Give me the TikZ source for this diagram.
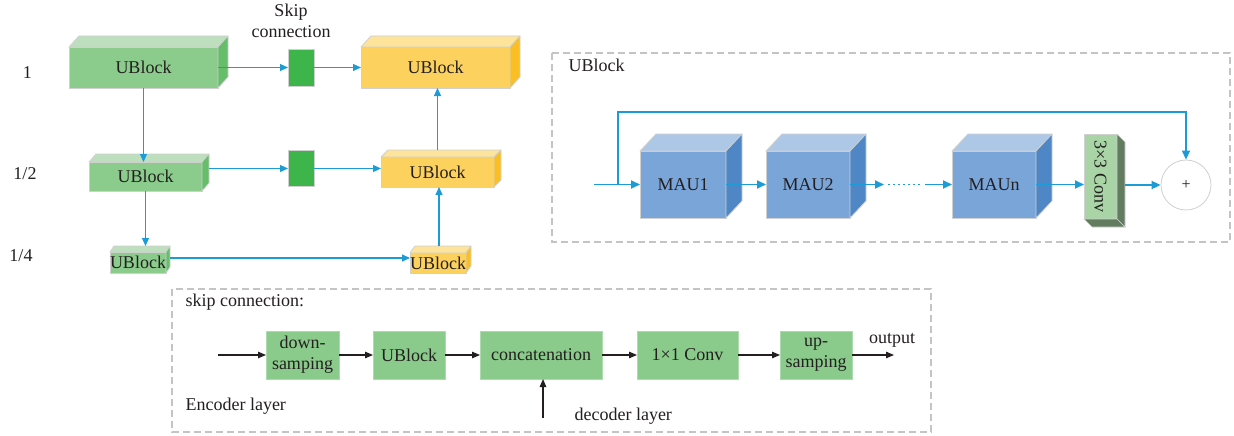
\documentclass[tikz,border=0pt]{standalone}
\usepackage{fontspec}
\setmainfont{Liberation Serif}
\usetikzlibrary{arrows.meta,calc}
\definecolor{txt}{HTML}{231F20}
\definecolor{gfront}{HTML}{8BCB8C}
\definecolor{gtop}{HTML}{BEDFBE}
\definecolor{gside}{HTML}{66BD6A}
\definecolor{yfront}{HTML}{FDD15E}
\definecolor{ytop}{HTML}{FEE39A}
\definecolor{yside}{HTML}{FBBF24}
\definecolor{mfront}{HTML}{7AA5D8}
\definecolor{mtop}{HTML}{ADC8E7}
\definecolor{mside}{HTML}{4F86C5}
\definecolor{skipg}{HTML}{3DB54A}
\definecolor{convf}{HTML}{A9D4A6}
\definecolor{convs}{HTML}{627C60}
\definecolor{boxg}{HTML}{8ACB8B}
\definecolor{abl}{HTML}{1D9BD7}
\definecolor{edgegray}{HTML}{D0D0D0}
\definecolor{dashgray}{HTML}{C4C4C4}
\tikzset{
  every node/.style={font=\fontsize{18pt}{21pt}\selectfont, text=txt},
  cubeface/.style={draw=edgegray, line width=0.8pt, inner sep=0pt, outer sep=0pt},
  cubeedge/.style={draw=edgegray, line width=0.8pt, line join=round},
  barrow/.style={draw=abl, line width=1.2pt, -{Triangle[length=8pt,width=7pt]}},
  barrowthick/.style={draw=abl, line width=1.7pt, -{Triangle[length=9pt,width=8pt]}},
  karrow/.style={draw=txt, line width=1.2pt, -{Triangle[length=8pt,width=6.5pt]}},
  sbox/.style={fill=boxg, draw=boxg!70!white, line width=0.8pt, inner sep=0pt, outer sep=0pt, minimum height=48pt, align=center},
  dashbox/.style={draw=dashgray, line width=1.2pt, dash pattern=on 7pt off 4pt},
}
\newcommand\cubo[9]{%
  \node[cubeface, fill=#8front, minimum width=#4pt, minimum height=#5pt] (#1) at (#2,#3) {#9};
  \filldraw[cubeedge, fill=#8top] (#1.north west) -- ++(#6,-#7) -- ++(#4,0) -- (#1.north east) -- cycle;
  \filldraw[cubeedge, fill=#8side] (#1.north east) -- ++(#6,-#7) -- ++(0,#5) -- (#1.south east) -- cycle;
}
\begin{document}
\begin{tikzpicture}[x=1pt,y=-1pt]
\useasboundingbox[fill=white] (0,0) rectangle (1234,436);

% ---------- left: U-structure ----------
\node[anchor=base] (l1) at (27.5,78) {1};
\node[anchor=base] (l2) at (25,179) {1/2};
\node[anchor=base] (l4) at (21,261) {1/4};
\node[anchor=base] (skiptxt1) at (291,17) {Skip};
\node[anchor=base] (skiptxt2) at (291,38) {connection};

\cubo{g1}{143.5}{67.5}{149}{41}{10}{11}{g}{UBlock}
\cubo{y1}{435.5}{67.5}{149}{41}{10}{11}{y}{UBlock}
\cubo{g2}{145.5}{176.5}{113}{29}{7}{8}{g}{UBlock}
\cubo{y2}{437.5}{172}{113}{30}{7}{7}{y}{UBlock}
\cubo{g3}{138}{262.5}{56}{21}{4}{6}{g}{UBlock}
\cubo{y3}{438}{263}{56}{20}{5}{7}{y}{UBlock}

\node[fill=skipg, draw=edgegray, line width=0.6pt, minimum width=26pt, minimum height=37pt, inner sep=0pt, outer sep=0pt] (s1) at (301,67.5) {};
\node[fill=skipg, draw=edgegray, line width=0.6pt, minimum width=26pt, minimum height=36pt, inner sep=0pt, outer sep=0pt] (s2) at (301,168.5) {};

\draw[barrow] (g1.east) -- (s1.west |- g1.east);
\draw[barrow] (s1.east |- g1.east) -- (y1.west);
\draw[barrow] ($(s2.west -| g2.east)+(7,0)$) -- (s2.west);
\draw[barrow] (s2.east) -- (y2.west |- s2.east);
\draw[barrow] ($(g3.east)+(4,-4.5)$) -- ($(y3.west)+(0,-5)$);
\draw[barrow] (g1.south) -- (g1.south |- g2.north);
\draw[barrow] (g2.south) -- ($(g2.south |- g3.north)+(0,-6)$);
\draw[barrow] ($(y3.north)+(1,-7)$) -- ($(y3.north |- y2.south)+(1,0)$);
\draw[barrow] ($(y2.north)+(0,-7)$) -- (y2.north |- y1.south);

% ---------- right: UBlock detail ----------
\draw[dashbox] (552,53) rectangle (1230,242);
\node[anchor=base west] (ubtitle) at (565,72) {UBlock};

\cubo{mau1}{683}{184.5}{86}{67}{16}{17}{m}{MAU1}
\cubo{mau2}{808}{184.5}{84}{67}{16}{17}{m}{MAU2}
\cubo{mau3}{994}{184.5}{84}{67}{16}{17}{m}{MAUn}

\node[fill=convf, draw=edgegray, line width=0.6pt, minimum width=33pt, minimum height=85pt, inner sep=0pt, outer sep=0pt] (conv) at (1100.5,176.5) {};
\filldraw[draw=edgegray, line width=0.6pt, fill=convs] (conv.north east) -- ++(8,8) -- ++(0,85) -- (conv.south east) -- cycle;
\filldraw[draw=edgegray, line width=0.6pt, fill=convs] (conv.south west) -- ++(8,8) -- ++(33,0) -- (conv.south east) -- cycle;
\node[rotate=-90] (convlabel) at (conv.center) {3×3 Conv};

\node[circle, draw=edgegray, fill=white, line width=0.8pt, minimum size=50pt, inner sep=0pt] (plus) at (1186,185) {\fontsize{16pt}{18pt}\selectfont +};

\coordinate (inp) at (594,184.5);
\coordinate (fbs) at (618,184.5);
\coordinate (fbt) at (618,112);
\coordinate (d0) at (884,184.5);
\coordinate (d1) at (888,184.5);
\coordinate (d2) at (921,184.5);
\coordinate (d3) at (925,184.5);

\draw[barrowthick] (inp) -- (mau1.west);
\draw[barrowthick, line width=1.3pt] (fbs) -- (fbt) -| (plus.north);
\draw[barrowthick] (mau1.east) -- (mau2.west);
\draw[barrowthick] (mau2.east) -- (d0);
\draw[draw=abl, line width=1.7pt, dash pattern=on 1.6pt off 3.4pt] (d1) -- (d2);
\draw[barrowthick] (d3) -- (mau3.west);
\draw[barrowthick] (mau3.east) -- (mau3.east -| conv.west);
\draw[barrowthick] ($(conv.east |- plus.west)+(8,0)$) -- (plus.west);

% ---------- bottom: skip connection ----------
\draw[dashbox] (172,289) rectangle (931,432);
\node[anchor=base west] (sctitle) at (182,306) {skip connection:};

\node[sbox, minimum width=73pt] (ds) at (302.5,355) {down-\\samping};
\node[sbox, minimum width=72pt] (ub) at (409,355) {UBlock};
\node[sbox, minimum width=122pt] (cat) at (541,355) {concatenation};
\node[sbox, minimum width=101pt] (c11) at (687.5,355) {1×1 Conv};
\node[sbox, minimum width=72pt] (us) at (816,355) {up-\\samping};

\coordinate (encin) at (218,355);
\coordinate (outend) at (894,355);
\coordinate (decin) at (543,418);

\draw[karrow] (encin) -- (ds.west);
\draw[karrow] (ds.east) -- (ub.west);
\draw[karrow] (ub.east) -- (cat.west);
\draw[karrow] (cat.east) -- (c11.west);
\draw[karrow] (c11.east) -- (us.west);
\draw[karrow] (us.east) -- (outend);
\draw[karrow] (decin) -- (decin |- cat.south);

\node[anchor=base] (outlbl) at (892,343) {output};
\node[anchor=base west] (enclbl) at (182,410) {Encoder layer};
\node[anchor=base west] (declbl) at (571,420) {decoder layer};
\end{tikzpicture}
\end{document}
